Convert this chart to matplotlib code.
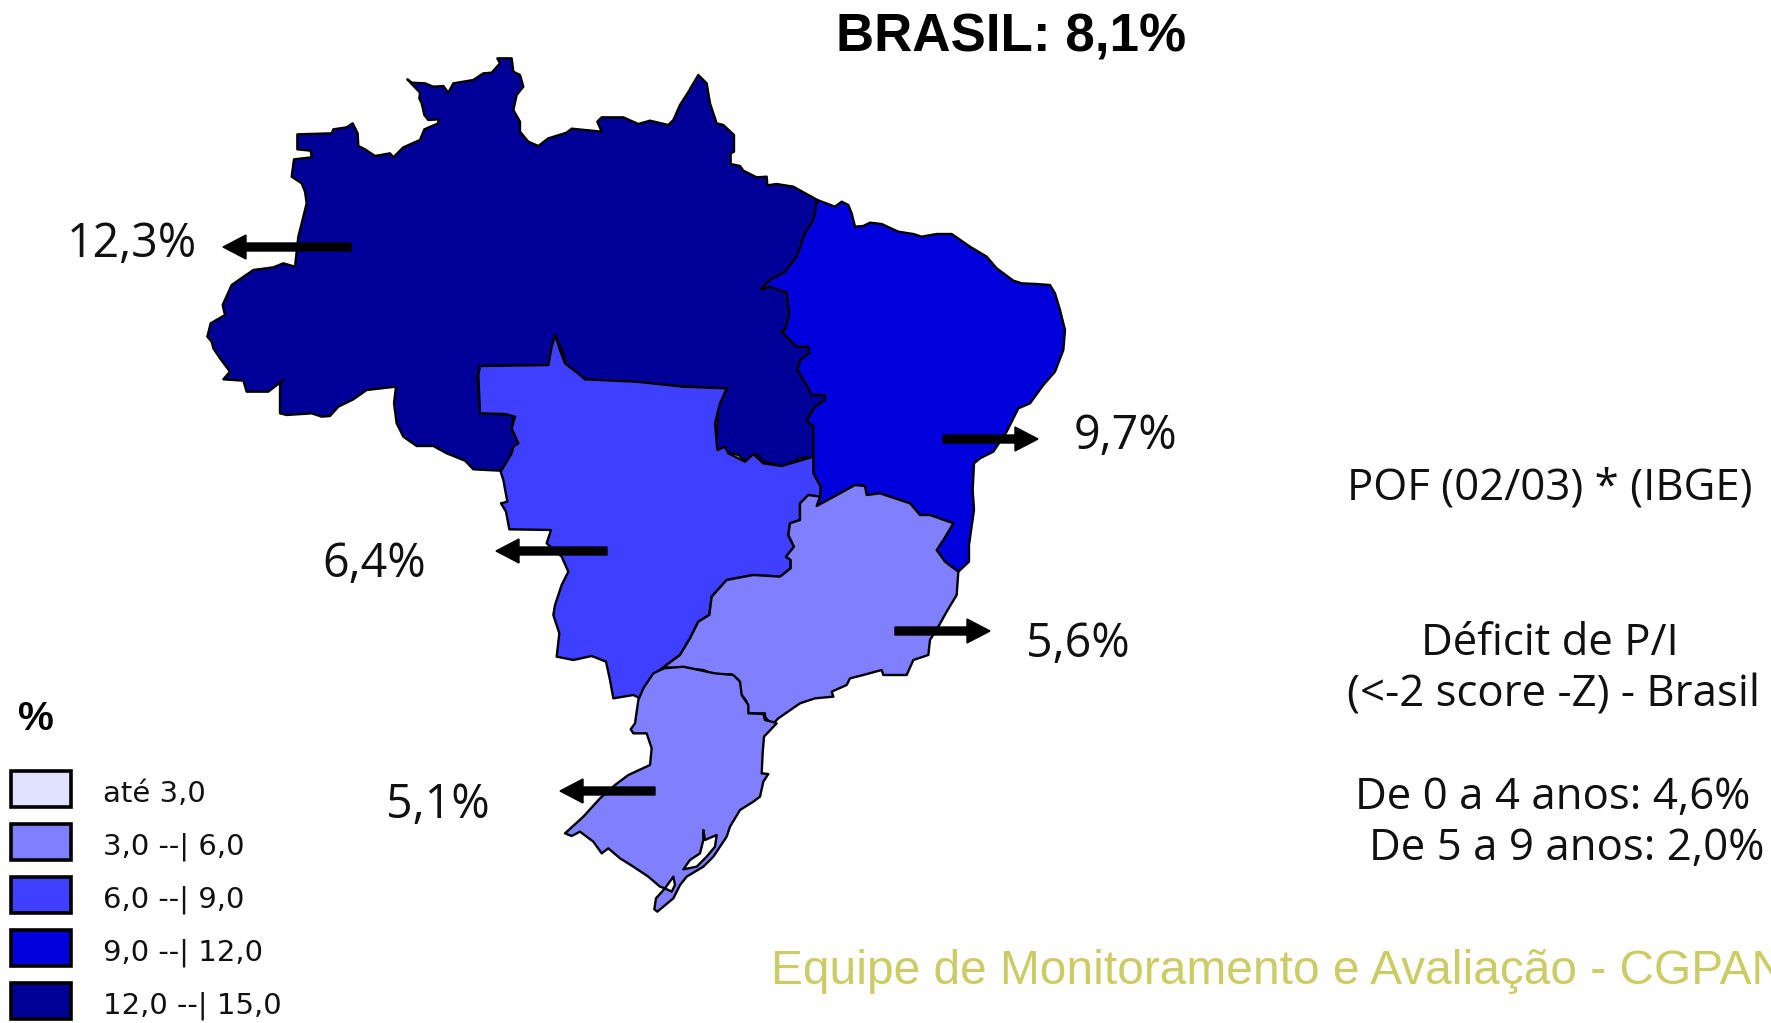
import matplotlib
matplotlib.use('Agg')
import matplotlib.pyplot as plt
from matplotlib.patches import Polygon, Rectangle

north_a = [(322,283),(425,280),(430,268),(470,262),(488,250),(503,280),(505,318),(525,328),(555,348),(600,340),(610,352),(640,322),(690,300),(703,268),(745,250),(745,238),(715,240),(703,225),(695,190),(688,175),(690,158),(652,118),(665,128),(705,130),(730,140),(760,138),(775,158),(790,130),(850,120),(880,100),(905,98),(930,70),(922,55),(965,55),(970,95),(990,105),(1000,140),(980,165),(970,210),(990,245),(990,275),(1015,305),(1045,318),(1075,295),(1130,278),(1145,266),(1235,275),(1222,245),(1235,232),(1300,232),(1345,252),(1380,242),(1435,255),(1450,240),(1470,195),(1500,148)]
north_b = [(90,87),(115,45),(140,70),(150,130),(170,190),(190,195),(222,225),(222,275),(212,280),(212,312),(240,318),(250,332),(290,352),(320,350),(322,376),(350,372),(400,380),(472,420),(460,480),(435,520),(410,590),(375,635),(330,660),(302,688),(330,680),(380,698),(388,760),(375,810),(365,815),(410,860),(445,860),(448,880),(420,900),(412,930),(440,975),(455,1005),(495,1005),(495,1020),(465,1040),(440,1080),(460,1100),(460,1190),(420,1195),(370,1218),(310,1205),(290,1182),(260,1205),(235,1185),(195,1175),(180,1185),(170,1160),(172,1090),(175,1040),(202,985),(90,980)]
north_c = [(1200,1018),(1180,1015),(1130,985),(1120,940),(1095,885),(1085,920),(1075,975),(870,978),(862,1010),(870,1120),(970,1125),(965,1170),(985,1210),(965,1230),(960,1260),(930,1292),(850,1288),(825,1262),(770,1240),(730,1218),(680,1218),(640,1190),(620,1150),(612,1090),(618,1040),(530,1050),(490,1078),(445,1100),(420,1128),(395,1130),(365,1120),(290,1125),(270,1120),(270,1030),(280,1020),(235,1055),(170,1055),(160,1022),(100,1018),(120,995),(90,955),(70,925),(65,905),(52,890),(62,850),(105,825),(98,795),(125,735),(190,690),(250,682),(280,670),(315,680),(325,590),(350,490),(345,455),(335,430),(305,410),(312,358),(365,352),(362,332),(322,328)]

northeast_a = [(472,420),(525,440),(545,425),(565,435),(575,460),(585,500),(610,498),(630,488),(665,492),(715,515),(760,522),(785,530),(830,522),(875,522),(930,560),(980,590),(1010,625),(1060,662),(1085,670),(1130,672),(1170,675),(1185,700),(1200,750),(1215,810),(1210,870),(1185,935),(1150,975),(1110,1030),(1075,1045),(1040,1115),(1000,1175),(960,1195),(942,1210),(938,1290),(942,1350)]
northeast_b = [(1497,615),(1497,665),(1465,695),(1425,665),(1400,630),(1420,600),(1450,550),(1380,525),(1350,525),(1320,490),(1230,460),(1190,465),(1185,438),(1155,435),(1110,460),(1040,498),(1050,470),(1052,440),(1030,400)]
northeast_c = [(460,1190),(460,1100),(440,1080),(465,1040),(495,1020),(495,1005),(455,1005),(440,975),(412,930),(420,900),(448,880),(445,860),(410,860),(365,815),(375,810),(388,760),(380,698),(330,680),(302,688),(330,660),(375,635),(410,590),(435,520),(460,480)]

center_west = [(30,78),(235,75),(245,20),(255,-15),(270,30),(285,70),(330,105),(345,118),(500,125),(640,140),(770,145),(750,190),(735,250),(742,330),(765,320),(775,340),(825,365),(850,342),(880,370),(935,378),(1030,350),(1030,400),(1052,440),(1050,470),(1015,465),(990,490),(990,540),(960,550),(955,585),(972,620),(948,650),(962,660),(962,685),(930,710),(850,705),(770,720),(725,770),(718,825),(685,845),(660,895),(630,945),(580,982),(550,1005),(525,1040),(510,1075),(490,1065),(430,1075),(420,1020),(408,965),(365,948),(310,960),(260,950),(268,880),(250,825),(255,795),(275,735),(295,695),(275,650),(230,610),(243,570),(118,568),(108,515),(93,490),(112,485),(100,420),(92,395),(125,340),(130,320),(145,310),(125,265),(135,230),(105,222),(30,220),(25,105)]

southeast = [(1040,498),(1110,460),(1155,435),(1185,438),(1190,465),(1230,460),(1320,490),(1350,525),(1380,525),(1450,550),(1420,600),(1400,630),(1425,665),(1465,695),(1460,765),(1430,815),(1405,860),(1380,900),(1375,945),(1330,960),(1310,1005),(1240,1005),(1235,990),(1180,1005),(1140,1015),(1130,1035),(1085,1055),(1090,1070),(1035,1075),(990,1090),(925,1135),(905,1155),(885,1130),(885,1120),(835,1120),(830,1085),(812,1060),(805,1020),(785,1003),(735,1005),(700,990),(645,985),(580,982),(630,945),(660,895),(685,845),(718,825),(725,770),(770,720),(850,705),(930,710),(962,685),(962,660),(948,650),(972,620),(955,585),(960,550),(990,540),(990,490),(1015,465),(1050,470)]

south = [(372,85),(430,80),(500,95),(525,100),(580,105),(600,125),(605,165),(625,195),(625,220),(670,222),(675,240),(695,245),(710,250),(672,290),(668,340),(665,400),(685,402),(670,425),(660,470),(640,485),(600,510),(570,560),(560,590),(520,650),(490,680),(440,710),(420,735),(400,775),(352,815),(343,808),(348,775),(375,745),(360,740),(325,710),(280,680),(240,655),(205,625),(185,640),(160,605),(120,575),(95,588),(75,580),(130,530),(180,475),(225,435),(265,405),(330,375),(335,325),(320,280),(280,280),(272,268),(285,250),(295,180),(310,145),(340,100)]
lagoa_patos = [(490,570),(495,600),(530,585),(525,620),(500,650),(470,680),(430,688),(450,660),(480,640),(490,600)]
lagoa_mirim = [(375,745),(400,710),(405,735),(395,755)]

legend_labels = ['até 3,0', '3,0 --| 6,0', '6,0 --| 9,0', '9,0 --| 12,0', '12,0 --| 15,0']
legend_colors = ['#E0E0FF', '#8080FF', '#3F3FFF', '#0000DD', '#000099']

region_values = ['12,3%', '9,7%', '6,4%', '5,6%', '5,1%']
value_x = [67, 1074, 322, 1026, 386]
value_y = [244, 436, 564, 644, 805]
arrow_tail = [(351,247), (943,439), (607,551), (895,631), (655,791)]
arrow_tip = [(223,247), (1038,439), (496,551), (990,631), (560,791)]


def crop(points, x0, y0):
    # crops are scaled 3x, back to figure pixels
    return [(x0 + px / 3, y0 + py / 3) for px, py in points]


W, H = 1771, 1023
fig = plt.figure(figsize=(W / 100, H / 100), dpi=100, facecolor='white')
ax = fig.add_axes([0, 0, 1, 1])
ax.set_xlim(0, W)
ax.set_ylim(H, 0)
ax.axis('off')

north = crop(north_a, 190, 40) + crop(north_b, 660, 60) + crop(north_c, 190, 40)
northeast = crop(northeast_a, 660, 60) + crop(northeast_b, 470, 340) + crop(northeast_c, 660, 60)
regions = [
    (north, '#000099'),
    (northeast, '#0000DD'),
    (crop(center_west, 470, 340), '#3F3FFF'),
    (crop(southeast, 470, 340), '#8080FF'),
    (crop(south, 540, 640), '#8080FF'),
    (crop(lagoa_patos, 540, 640), 'white'),
    (crop(lagoa_mirim, 540, 640), 'white'),
]
for pts, col in regions:
    ax.add_patch(Polygon(pts, closed=True, facecolor=col, edgecolor='black', lw=1.7, joinstyle='round'))

# arrows and percentages
for label, tx, ty, tail, tip in zip(region_values, value_x, value_y, arrow_tail, arrow_tip):
    ax.text(tx, ty, label, fontsize=33.5, family='Open Sans', va='center', ha='left', color='#111111')
    ax.arrow(tail[0], tail[1], tip[0] - tail[0], tip[1] - tail[1], width=8, head_width=24, head_length=23,
             length_includes_head=True, color='black', zorder=5)

ax.text(1011, 38, 'BRASIL: 8,1%', fontsize=38.2, fontweight='bold', family='Liberation Sans', ha='center', va='center')

# legend
ax.text(18, 719, '%', fontsize=29, fontweight='bold', family='Liberation Sans', va='center')
box_top = [771, 824, 877, 930, 983]
for label, col, top in zip(legend_labels, legend_colors, box_top):
    ax.add_patch(Rectangle((11, top), 60, 36, facecolor=col, edgecolor='black', lw=2.6))
    ax.text(103, top + 23, label, fontsize=21, family='DejaVu Sans', va='center', color='#111111')

# notes on the right
ax.text(1347, 488, 'POF (02/03) * (IBGE)', fontsize=31.5, family='Open Sans', va='center', color='#111111')
ax.text(1550, 644, 'Déficit de P/I', fontsize=31.5, family='Open Sans', va='center', ha='center', color='#111111')
ax.text(1347, 695, '(<-2 score -Z) - Brasil', fontsize=31.5, family='Open Sans', va='center', color='#111111')
ax.text(1355, 798, 'De 0 a 4 anos: 4,6%', fontsize=31.5, family='Open Sans', va='center', color='#111111')
ax.text(1369, 849, 'De 5 a 9 anos: 2,0%', fontsize=31.5, family='Open Sans', va='center', color='#111111')

ax.text(771, 972, 'Equipe de Monitoramento e Avaliação - CGPAN', fontsize=34.5, family='Liberation Sans',
        va='center', color='#CCCC66')

fig.savefig('out.png', dpi=100)
plt.close(fig)
